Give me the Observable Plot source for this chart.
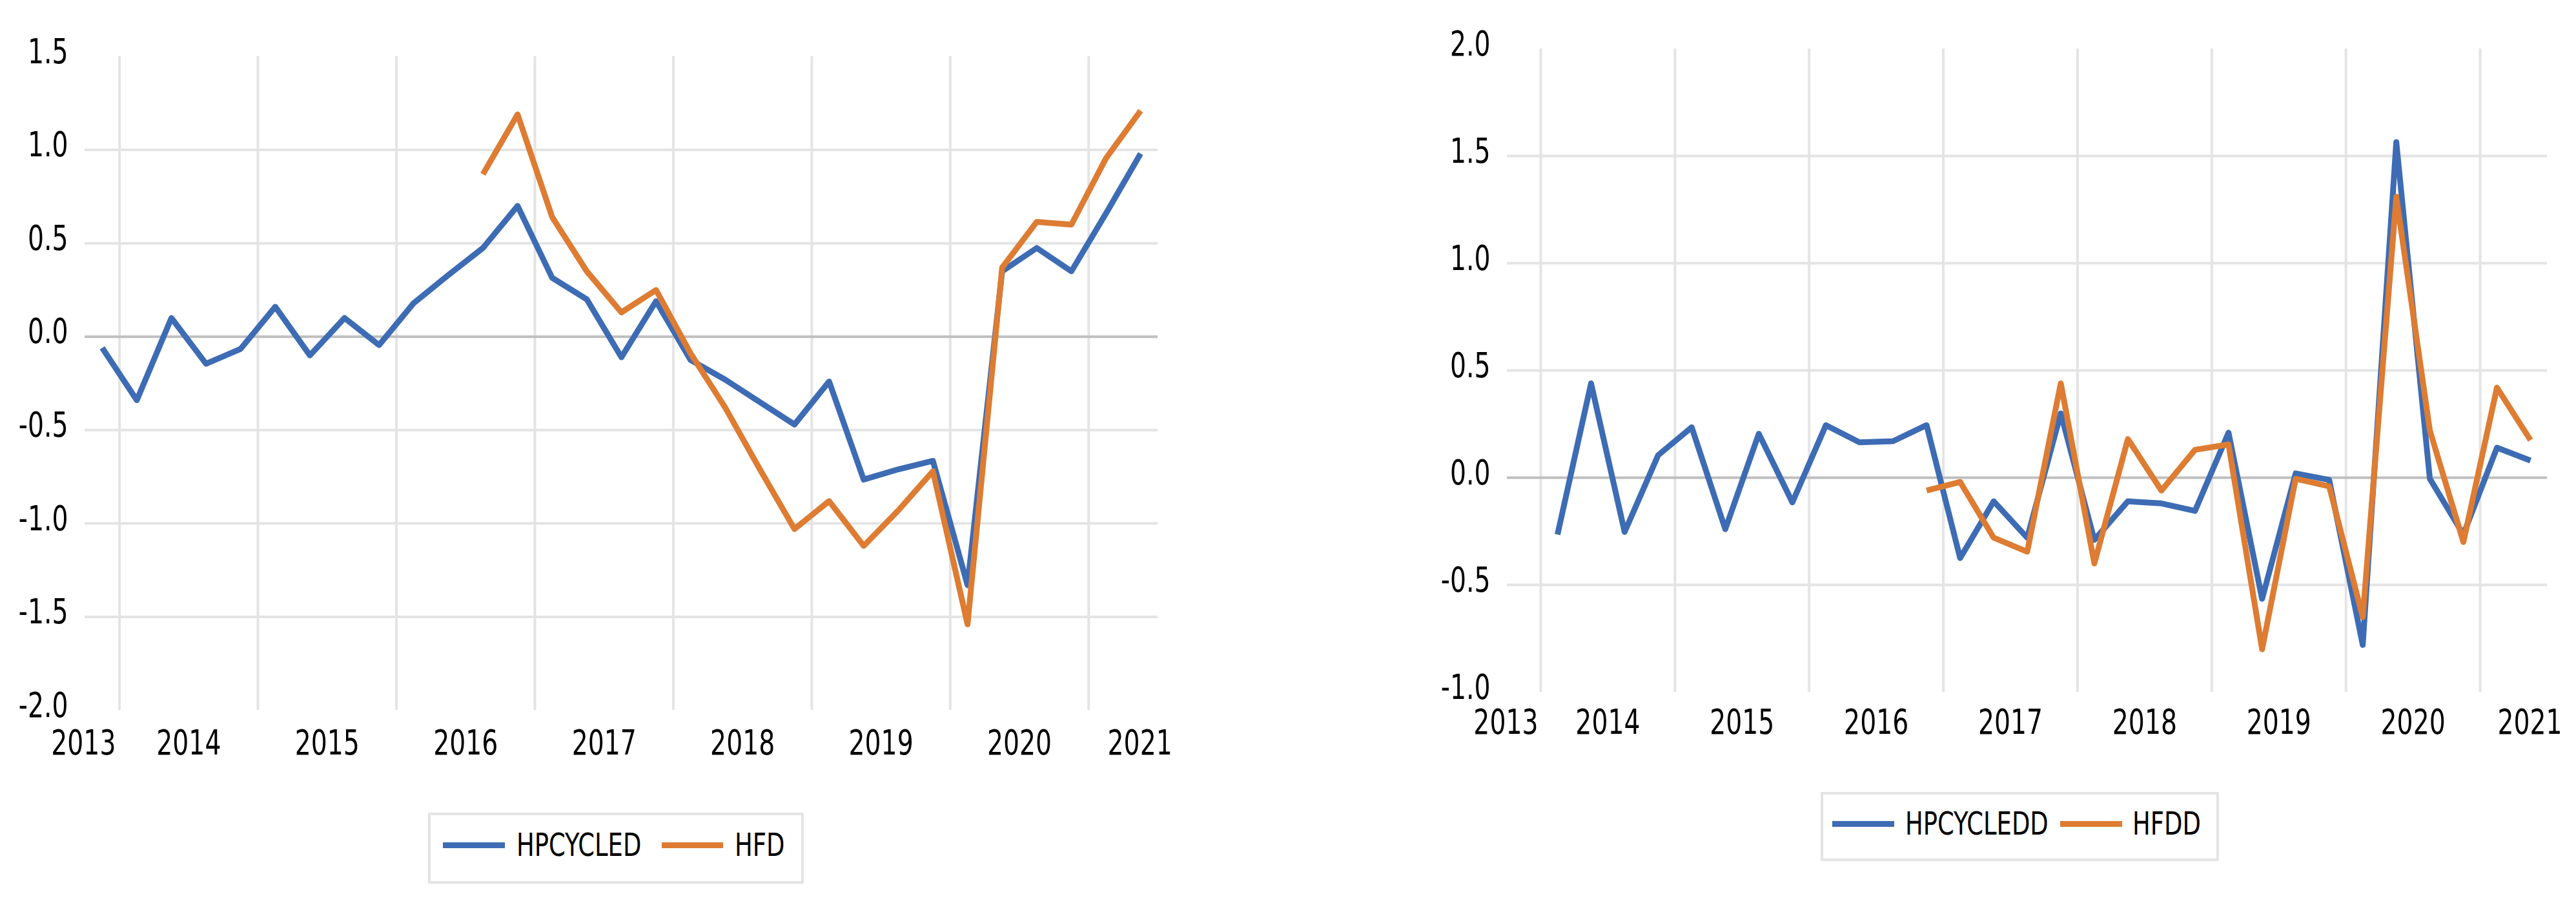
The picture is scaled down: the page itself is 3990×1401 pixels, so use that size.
<!DOCTYPE html>
<html><head><meta charset="utf-8">
<script src="https://cdn.jsdelivr.net/npm/d3@7"></script>
<script src="https://cdn.jsdelivr.net/npm/@observablehq/plot@0.6"></script>
<style>
html,body{margin:0;padding:0;background:#fff;}
body{width:3990px;height:1401px;position:relative;overflow:hidden;font-family:"Liberation Sans Narrow","DejaVu Sans Condensed","Liberation Sans",sans-serif;font-stretch:condensed;}
.chart{position:absolute;top:0;}
.legend{position:absolute;box-sizing:border-box;border:4px solid #e4e4e4;background:#fff;}
.sw{position:absolute;height:9px;}
.lt{position:absolute;font-size:50px;line-height:50px;color:#000;white-space:nowrap;transform-origin:left center;transform:scaleX(0.82);}
</style></head><body>
<div id="left" class="chart" style="left:0px"></div>
<div id="right" class="chart" style="left:2150px"></div>
<script>
// ---- data ----
const quarters = ["2013Q4",
  "2014Q1","2014Q2","2014Q3","2014Q4",
  "2015Q1","2015Q2","2015Q3","2015Q4",
  "2016Q1","2016Q2","2016Q3","2016Q4",
  "2017Q1","2017Q2","2017Q3","2017Q4",
  "2018Q1","2018Q2","2018Q3","2018Q4",
  "2019Q1","2019Q2","2019Q3","2019Q4",
  "2020Q1","2020Q2","2020Q3","2020Q4",
  "2021Q1","2021Q2"];

const hpcycled = [-0.06,-0.34,0.10,-0.145,-0.065,0.16,-0.10,0.10,-0.045,0.18,0.33,0.475,0.70,0.315,0.20,-0.11,
  0.19,-0.125,-0.23,-0.35,-0.47,-0.24,-0.765,-0.71,-0.665,-1.33,0.35,0.475,0.35,0.66,0.98];
const hfd = [null,null,null,null,null,null,null,null,null,null,null,0.87,1.19,0.64,0.35,0.13,
  0.25,-0.09,-0.38,-0.71,-1.03,-0.88,-1.12,-0.93,-0.72,-1.54,0.37,0.615,0.60,0.955,1.21];

const hpcycledd = [null,-0.265,0.44,-0.253,0.105,0.235,-0.24,0.205,-0.115,0.245,0.165,0.17,0.245,-0.375,-0.11,-0.28,
  0.30,-0.29,-0.11,-0.12,-0.155,0.21,-0.565,0.02,-0.01,-0.78,1.565,-0.005,-0.265,0.14,0.08];
const hfdd = [null,null,null,null,null,null,null,null,null,null,null,null,-0.06,-0.02,-0.28,-0.345,
  0.44,-0.40,0.18,-0.06,0.13,0.155,-0.80,-0.005,-0.04,-0.65,1.31,0.22,-0.30,0.42,0.175];

const yearLabels = ["2013","2014","2015","2016","2017","2018","2019","2020","2021"];
const yearLabelAt = [2013.74,2014.5,2015.5,2016.5,2017.5,2018.5,2019.5,2020.5,2021.37];
const yearBounds = [2014,2015,2016,2017,2018,2019,2020,2021];

const leftTicks = [-2.0,-1.5,-1.0,-0.5,0.0,0.5,1.0,1.5];
const rightTicks = [-1.0,-0.5,0.0,0.5,1.0,1.5,2.0];

const BLUE = "#3d6cb4", ORANGE = "#dd7c32";
const FONT = '"Liberation Sans Narrow","DejaVu Sans Condensed","Liberation Sans",sans-serif';
const SQUEEZE = 0.81;

// quarter label -> decimal year at mid-quarter
const tOf = q => +q.slice(0,4) + (+q.slice(5) - 0.5) / 4;

function rows(values, name) {
  return quarters.map((q, i) => ({t: tOf(q), v: values[i], s: name}));
}

function chart({series, ticks, width, height, mL, mR, mT, mB, labelGap}) {
  const yDom = [ticks[0], ticks[ticks.length - 1]];
  const inner = ticks.filter(d => d !== 0 && d !== yDom[0] && d !== yDom[1]);
  const labels = yearLabels.map((l, i) => ({l, t: yearLabelAt[i]}));
  return Plot.plot({
    width, height,
    marginLeft: mL, marginRight: mR, marginTop: mT, marginBottom: mB,
    style: {fontFamily: FONT, fontStretch: "condensed", color: "#000", background: "#fff", overflow: "visible"},
    x: {domain: [2013.75, 2021.5], axis: null},
    y: {domain: yDom, axis: null},
    marks: [
      Plot.ruleX(yearBounds, {stroke: "#e4e4e4", strokeWidth: 4}),
      Plot.ruleY(inner, {stroke: "#e4e4e4", strokeWidth: 4}),
      Plot.ruleY([0], {stroke: "#bfbfbf", strokeWidth: 4}),
      Plot.axisY({ticks, tickSize: 0, tickPadding: 26, fontSize: 54, dy: -7, label: null,
        tickFormat: d => d.toFixed(1), fill: "#000"}),
      Plot.text(labels, {x: "t", y: yDom[0], text: "l", fontSize: 54, fill: "#000",
        lineAnchor: "top", dy: labelGap}),
      ...series.map(s => Plot.line(rows(s.values, s.name), {
        x: "t", y: "v", stroke: s.color, strokeWidth: 9,
        strokeLinejoin: "round", strokeLinecap: "butt"}))
    ]
  });
}

document.getElementById("left").append(chart({
  series: [{name: "HPCYCLED", values: hpcycled, color: BLUE}, {name: "HFD", values: hfd, color: ORANGE}],
  ticks: leftTicks, width: 1850, height: 1200, mL: 131, mR: 57, mT: 87, mB: 101, labelGap: 30
}));
document.getElementById("right").append(chart({
  series: [{name: "HPCYCLEDD", values: hpcycledd, color: BLUE}, {name: "HFDD", values: hfdd, color: ORANGE}],
  ticks: rightTicks, width: 1840, height: 1200, mL: 184, mR: 45, mT: 75, mB: 129, labelGap: 26
}));

// narrow the glyphs horizontally (the reference uses a condensed face)
document.querySelectorAll("svg text").forEach(t => {
  const parts = t.querySelectorAll("tspan");
  (parts.length ? Array.from(parts) : [t]).forEach(el => {
    const L = el.getComputedTextLength();
    if (L > 0) {
      el.setAttribute("textLength", (L * SQUEEZE).toFixed(2));
      el.setAttribute("lengthAdjust", "spacingAndGlyphs");
    }
  });
});

// ---- legends (HTML, below each chart) ----
function legend(box, items) {
  const b = document.createElement("div");
  b.className = "legend";
  Object.assign(b.style, {left: box.x + "px", top: box.y + "px", width: box.w + "px", height: box.h + "px"});
  document.body.append(b);
  items.forEach(it => {
    const sw = document.createElement("div");
    sw.className = "sw";
    Object.assign(sw.style, {left: it.sx + "px", top: (box.cy - 4) + "px", width: it.sw + "px", background: it.color});
    document.body.append(sw);
    const tx = document.createElement("div");
    tx.className = "lt";
    tx.textContent = it.name;
    Object.assign(tx.style, {left: it.tx + "px", top: (box.cy - 25) + "px"});
    document.body.append(tx);
  });
}
legend({x: 663, y: 1258, w: 582, h: 110, cy: 1308}, [
  {name: "HPCYCLED", color: BLUE, sx: 686, sw: 96, tx: 800},
  {name: "HFD", color: ORANGE, sx: 1025, sw: 95, tx: 1138}
]);
legend({x: 2820, y: 1226, w: 617, h: 107, cy: 1275}, [
  {name: "HPCYCLEDD", color: BLUE, sx: 2838, sw: 96, tx: 2951},
  {name: "HFDD", color: ORANGE, sx: 3191, sw: 96, tx: 3303}
]);
</script>
</body></html>
